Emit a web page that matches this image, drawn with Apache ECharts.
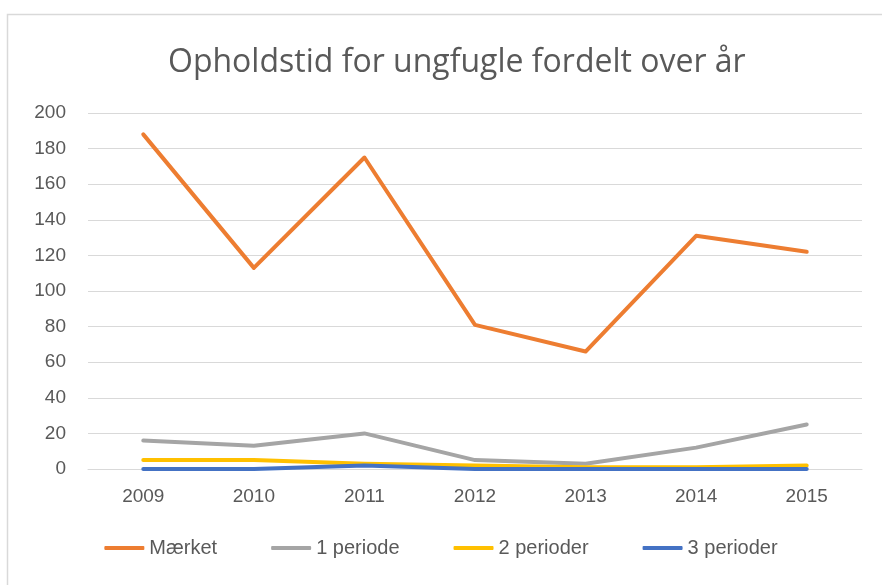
<!DOCTYPE html>
<html>
<head>
<meta charset="utf-8">
<script src="https://cdn.jsdelivr.net/npm/echarts@6/dist/echarts.min.js"></script>
<style>
  html, body { margin: 0; padding: 0; background: #fff; }
  #container { width: 882px; height: 585px; }
</style>
</head>
<body>
<div id="container"></div>
<script>
var years = ['2009', '2010', '2011', '2012', '2013', '2014', '2015'];
var maerket = [188, 113, 175, 81, 66, 131, 122];
var periode1 = [16, 13, 20, 5, 3, 12, 25];
var periode2 = [5, 5, 3, 2, 1, 1, 2];
var periode3 = [0, 0, 2, 0, 0, 0, 0];
var yTicks = [0, 200, 20];

var colorCode = {
  'Mærket': '#ED7D31',
  '1 periode': '#A5A5A5',
  '2 perioder': '#FFC000',
  '3 perioder': '#4472C4'
};

var font = 'Liberation Sans, sans-serif';

function mkSeries(name, data) {
  return {
    name: name,
    type: 'line',
    data: data,
    symbol: 'none',
    lineStyle: { width: 4, color: colorCode[name], cap: 'round', join: 'round' },
    itemStyle: { color: colorCode[name] }
  };
}

var dom = document.getElementById('container');
var myChart = echarts.init(dom);
var option = {
  animation: false,
  title: {
    text: 'Opholdstid for ungfugle fordelt over år',
    left: 163,
    top: 42,
    textStyle: { fontFamily: 'Open Sans', fontWeight: 'normal', fontSize: 32, color: '#595959' }
  },
  graphic: [{
    type: 'rect',
    shape: { x: 7.5, y: 14.5, width: 900, height: 600 },
    style: { fill: 'none', stroke: '#d9d9d9', lineWidth: 1.5 }
  }],
  legend: {
    bottom: 22,
    left: 'center',
    itemWidth: 40,
    itemHeight: 4,
    itemGap: 54,
    icon: 'roundRect',
    textStyle: { fontFamily: font, fontSize: 20, color: '#595959' },
    data: ['Mærket', '1 periode', '2 perioder', '3 perioder']
  },
  grid: { left: 88, right: 20, top: 113, bottom: 116 },
  xAxis: {
    type: 'category',
    data: years,
    boundaryGap: true,
    axisLine: { lineStyle: { color: '#d9d9d9' } },
    axisTick: { show: false },
    axisLabel: { fontFamily: font, fontSize: 19, color: '#595959', margin: 18 }
  },
  yAxis: {
    type: 'value',
    min: yTicks[0],
    max: yTicks[1],
    interval: yTicks[2],
    axisLine: { show: false },
    axisTick: { show: false },
    splitLine: { lineStyle: { color: '#d9d9d9' } },
    axisLabel: { fontFamily: font, fontSize: 19, color: '#595959', margin: 22 }
  },
  series: [
    mkSeries('Mærket', maerket),
    mkSeries('1 periode', periode1),
    mkSeries('2 perioder', periode2),
    mkSeries('3 perioder', periode3)
  ]
};
myChart.setOption(option, true);
</script>
</body>
</html>
